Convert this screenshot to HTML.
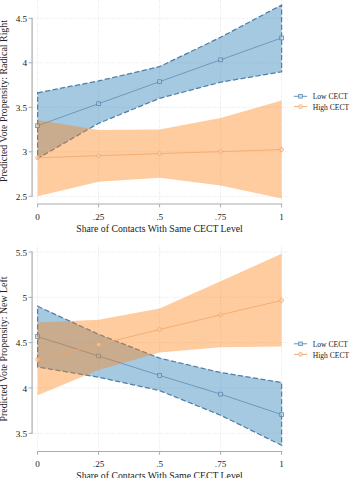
<!DOCTYPE html>
<html><head><meta charset="utf-8"><style>
html,body{margin:0;padding:0;background:#fff;}
body{width:350px;height:478px;position:relative;overflow:hidden;font-family:"Liberation Serif",serif;color:#222;}
svg{position:absolute;left:0;top:0;}
.yt{position:absolute;left:0;width:27.2px;text-align:right;font-size:9.2px;line-height:12px;white-space:nowrap;}
.xt{position:absolute;width:30px;text-align:center;font-size:9.2px;line-height:12px;white-space:nowrap;}
.xtitle{position:absolute;left:0;width:319px;text-align:center;font-size:9.75px;line-height:12px;white-space:nowrap;}
.ytitle{position:absolute;left:-96px;width:200px;height:12px;margin-top:-6px;text-align:center;font-size:9.9px;line-height:12px;white-space:nowrap;transform:rotate(-90deg);}
.leg{position:absolute;left:312.7px;font-size:7.6px;line-height:11px;white-space:nowrap;}
</style></head><body>
<svg width="350" height="478" viewBox="0 0 350 478">
<line x1="33" y1="18.30" x2="288" y2="18.30" stroke="#d8d8d8" stroke-width="0.8" stroke-dasharray="0.8 1.6"/>
<line x1="33" y1="62.80" x2="288" y2="62.80" stroke="#d8d8d8" stroke-width="0.8" stroke-dasharray="0.8 1.6"/>
<line x1="33" y1="107.30" x2="288" y2="107.30" stroke="#d8d8d8" stroke-width="0.8" stroke-dasharray="0.8 1.6"/>
<line x1="33" y1="151.80" x2="288" y2="151.80" stroke="#d8d8d8" stroke-width="0.8" stroke-dasharray="0.8 1.6"/>
<line x1="33" y1="196.30" x2="288" y2="196.30" stroke="#d8d8d8" stroke-width="0.8" stroke-dasharray="0.8 1.6"/>
<line x1="37.60" y1="0.00" x2="37.60" y2="203.00" stroke="#d8d8d8" stroke-width="0.8" stroke-dasharray="0.8 1.6"/>
<line x1="98.60" y1="0.00" x2="98.60" y2="203.00" stroke="#d8d8d8" stroke-width="0.8" stroke-dasharray="0.8 1.6"/>
<line x1="159.60" y1="0.00" x2="159.60" y2="203.00" stroke="#d8d8d8" stroke-width="0.8" stroke-dasharray="0.8 1.6"/>
<line x1="220.60" y1="0.00" x2="220.60" y2="203.00" stroke="#d8d8d8" stroke-width="0.8" stroke-dasharray="0.8 1.6"/>
<line x1="281.60" y1="0.00" x2="281.60" y2="203.00" stroke="#d8d8d8" stroke-width="0.8" stroke-dasharray="0.8 1.6"/>
<polygon points="37.60,92.80 98.60,80.90 159.60,66.60 220.60,37.30 281.60,5.00 281.60,71.80 220.60,82.20 159.60,98.30 98.60,123.30 37.60,158.50" fill="rgba(31,119,180,0.40)" stroke="#4f7fa8" stroke-width="1.25" stroke-dasharray="5.2 2.4" stroke-linejoin="miter"/>
<polyline points="37.60,125.70 98.60,103.70 159.60,81.70 220.60,59.80 281.60,37.90" fill="none" stroke="#5a88b0" stroke-width="0.75"/>
<rect x="35.70" y="123.80" width="3.8" height="3.8" fill="rgba(190,220,240,0.5)" stroke="#5a88b0" stroke-width="0.8"/>
<rect x="96.70" y="101.80" width="3.8" height="3.8" fill="rgba(190,220,240,0.5)" stroke="#5a88b0" stroke-width="0.8"/>
<rect x="157.70" y="79.80" width="3.8" height="3.8" fill="rgba(190,220,240,0.5)" stroke="#5a88b0" stroke-width="0.8"/>
<rect x="218.70" y="57.90" width="3.8" height="3.8" fill="rgba(190,220,240,0.5)" stroke="#5a88b0" stroke-width="0.8"/>
<rect x="279.70" y="36.00" width="3.8" height="3.8" fill="rgba(190,220,240,0.5)" stroke="#5a88b0" stroke-width="0.8"/>
<polygon points="37.60,120.10 98.60,130.00 159.60,129.50 220.60,117.90 281.60,100.60 281.60,198.50 220.60,185.40 159.60,177.70 98.60,181.70 37.60,196.20" fill="rgba(255,127,14,0.40)" stroke="none"/>
<polyline points="37.60,157.80 98.60,155.70 159.60,153.60 220.60,151.60 281.60,149.50" fill="none" stroke="#f2a468" stroke-width="0.8"/>
<circle cx="37.60" cy="157.80" r="1.9" fill="rgba(255,225,200,0.5)" stroke="#f2a468" stroke-width="0.8"/>
<circle cx="98.60" cy="155.70" r="1.9" fill="rgba(255,225,200,0.5)" stroke="#f2a468" stroke-width="0.8"/>
<circle cx="159.60" cy="153.60" r="1.9" fill="rgba(255,225,200,0.5)" stroke="#f2a468" stroke-width="0.8"/>
<circle cx="220.60" cy="151.60" r="1.9" fill="rgba(255,225,200,0.5)" stroke="#f2a468" stroke-width="0.8"/>
<circle cx="281.60" cy="149.50" r="1.9" fill="rgba(255,225,200,0.5)" stroke="#f2a468" stroke-width="0.8"/>
<line x1="32.1" y1="17.80" x2="32.1" y2="196.80" stroke="#acacac" stroke-width="1.2"/>
<line x1="28.6" y1="18.30" x2="32.1" y2="18.30" stroke="#acacac" stroke-width="1"/>
<line x1="28.6" y1="62.80" x2="32.1" y2="62.80" stroke="#acacac" stroke-width="1"/>
<line x1="28.6" y1="107.30" x2="32.1" y2="107.30" stroke="#acacac" stroke-width="1"/>
<line x1="28.6" y1="151.80" x2="32.1" y2="151.80" stroke="#acacac" stroke-width="1"/>
<line x1="28.6" y1="196.30" x2="32.1" y2="196.30" stroke="#acacac" stroke-width="1"/>
<line x1="37.1" y1="204.00" x2="282.1" y2="204.00" stroke="#acacac" stroke-width="1.2"/>
<line x1="37.60" y1="204.00" x2="37.60" y2="207.30" stroke="#acacac" stroke-width="1"/>
<line x1="98.60" y1="204.00" x2="98.60" y2="207.30" stroke="#acacac" stroke-width="1"/>
<line x1="159.60" y1="204.00" x2="159.60" y2="207.30" stroke="#acacac" stroke-width="1"/>
<line x1="220.60" y1="204.00" x2="220.60" y2="207.30" stroke="#acacac" stroke-width="1"/>
<line x1="281.60" y1="204.00" x2="281.60" y2="207.30" stroke="#acacac" stroke-width="1"/>
<line x1="293.9" y1="96.30" x2="307.1" y2="96.30" stroke="#5a88b0" stroke-width="0.9"/>
<rect x="298.7" y="94.50" width="3.6" height="3.6" fill="rgba(210,230,245,0.9)" stroke="#5a88b0" stroke-width="0.8"/>
<line x1="293.9" y1="106.60" x2="307.1" y2="106.60" stroke="#f2a468" stroke-width="0.9"/>
<circle cx="300.5" cy="106.60" r="1.85" fill="rgba(255,230,210,0.9)" stroke="#f2a468" stroke-width="0.8"/>
<line x1="33" y1="252.00" x2="288" y2="252.00" stroke="#d8d8d8" stroke-width="0.8" stroke-dasharray="0.8 1.6"/>
<line x1="33" y1="297.32" x2="288" y2="297.32" stroke="#d8d8d8" stroke-width="0.8" stroke-dasharray="0.8 1.6"/>
<line x1="33" y1="342.65" x2="288" y2="342.65" stroke="#d8d8d8" stroke-width="0.8" stroke-dasharray="0.8 1.6"/>
<line x1="33" y1="387.98" x2="288" y2="387.98" stroke="#d8d8d8" stroke-width="0.8" stroke-dasharray="0.8 1.6"/>
<line x1="33" y1="433.30" x2="288" y2="433.30" stroke="#d8d8d8" stroke-width="0.8" stroke-dasharray="0.8 1.6"/>
<line x1="37.60" y1="245.50" x2="37.60" y2="450.50" stroke="#d8d8d8" stroke-width="0.8" stroke-dasharray="0.8 1.6"/>
<line x1="98.60" y1="245.50" x2="98.60" y2="450.50" stroke="#d8d8d8" stroke-width="0.8" stroke-dasharray="0.8 1.6"/>
<line x1="159.60" y1="245.50" x2="159.60" y2="450.50" stroke="#d8d8d8" stroke-width="0.8" stroke-dasharray="0.8 1.6"/>
<line x1="220.60" y1="245.50" x2="220.60" y2="450.50" stroke="#d8d8d8" stroke-width="0.8" stroke-dasharray="0.8 1.6"/>
<line x1="281.60" y1="245.50" x2="281.60" y2="450.50" stroke="#d8d8d8" stroke-width="0.8" stroke-dasharray="0.8 1.6"/>
<polygon points="37.60,306.30 98.60,334.30 159.60,358.10 220.60,372.50 281.60,382.50 281.60,445.30 220.60,415.20 159.60,390.60 98.60,377.20 37.60,367.00" fill="rgba(31,119,180,0.40)" stroke="#4f7fa8" stroke-width="1.25" stroke-dasharray="5.2 2.4" stroke-linejoin="miter"/>
<polyline points="37.60,336.50 98.60,356.00 159.60,375.40 220.60,394.10 281.60,414.60" fill="none" stroke="#5a88b0" stroke-width="0.75"/>
<rect x="35.70" y="334.60" width="3.8" height="3.8" fill="rgba(190,220,240,0.5)" stroke="#5a88b0" stroke-width="0.8"/>
<rect x="96.70" y="354.10" width="3.8" height="3.8" fill="rgba(190,220,240,0.5)" stroke="#5a88b0" stroke-width="0.8"/>
<rect x="157.70" y="373.50" width="3.8" height="3.8" fill="rgba(190,220,240,0.5)" stroke="#5a88b0" stroke-width="0.8"/>
<rect x="218.70" y="392.20" width="3.8" height="3.8" fill="rgba(190,220,240,0.5)" stroke="#5a88b0" stroke-width="0.8"/>
<rect x="279.70" y="412.70" width="3.8" height="3.8" fill="rgba(190,220,240,0.5)" stroke="#5a88b0" stroke-width="0.8"/>
<polygon points="37.60,322.50 98.60,319.80 159.60,308.40 220.60,281.30 281.60,253.80 281.60,346.60 220.60,347.20 159.60,352.40 98.60,370.10 37.60,395.20" fill="rgba(255,127,14,0.40)" stroke="none"/>
<polyline points="37.60,359.40 98.60,344.50 159.60,329.50 220.60,314.80 281.60,300.40" fill="none" stroke="#f2a468" stroke-width="0.8"/>
<circle cx="37.60" cy="359.40" r="1.9" fill="rgba(255,225,200,0.5)" stroke="#f2a468" stroke-width="0.8"/>
<circle cx="98.60" cy="344.50" r="1.9" fill="rgba(255,225,200,0.5)" stroke="#f2a468" stroke-width="0.8"/>
<circle cx="159.60" cy="329.50" r="1.9" fill="rgba(255,225,200,0.5)" stroke="#f2a468" stroke-width="0.8"/>
<circle cx="220.60" cy="314.80" r="1.9" fill="rgba(255,225,200,0.5)" stroke="#f2a468" stroke-width="0.8"/>
<circle cx="281.60" cy="300.40" r="1.9" fill="rgba(255,225,200,0.5)" stroke="#f2a468" stroke-width="0.8"/>
<line x1="32.1" y1="251.50" x2="32.1" y2="433.80" stroke="#acacac" stroke-width="1.2"/>
<line x1="28.6" y1="252.00" x2="32.1" y2="252.00" stroke="#acacac" stroke-width="1"/>
<line x1="28.6" y1="297.32" x2="32.1" y2="297.32" stroke="#acacac" stroke-width="1"/>
<line x1="28.6" y1="342.65" x2="32.1" y2="342.65" stroke="#acacac" stroke-width="1"/>
<line x1="28.6" y1="387.98" x2="32.1" y2="387.98" stroke="#acacac" stroke-width="1"/>
<line x1="28.6" y1="433.30" x2="32.1" y2="433.30" stroke="#acacac" stroke-width="1"/>
<line x1="37.1" y1="451.50" x2="282.1" y2="451.50" stroke="#acacac" stroke-width="1.2"/>
<line x1="37.60" y1="451.50" x2="37.60" y2="454.80" stroke="#acacac" stroke-width="1"/>
<line x1="98.60" y1="451.50" x2="98.60" y2="454.80" stroke="#acacac" stroke-width="1"/>
<line x1="159.60" y1="451.50" x2="159.60" y2="454.80" stroke="#acacac" stroke-width="1"/>
<line x1="220.60" y1="451.50" x2="220.60" y2="454.80" stroke="#acacac" stroke-width="1"/>
<line x1="281.60" y1="451.50" x2="281.60" y2="454.80" stroke="#acacac" stroke-width="1"/>
<line x1="293.9" y1="343.80" x2="307.1" y2="343.80" stroke="#5a88b0" stroke-width="0.9"/>
<rect x="298.7" y="342.00" width="3.6" height="3.6" fill="rgba(210,230,245,0.9)" stroke="#5a88b0" stroke-width="0.8"/>
<line x1="293.9" y1="354.40" x2="307.1" y2="354.40" stroke="#f2a468" stroke-width="0.9"/>
<circle cx="300.5" cy="354.40" r="1.85" fill="rgba(255,230,210,0.9)" stroke="#f2a468" stroke-width="0.8"/>
</svg>
<div class="yt" style="top:12.90px">4.5</div>
<div class="yt" style="top:57.40px">4</div>
<div class="yt" style="top:101.90px">3.5</div>
<div class="yt" style="top:146.40px">3</div>
<div class="yt" style="top:190.90px">2.5</div>
<div class="xt" style="left:22.60px;top:210.50px">0</div>
<div class="xt" style="left:83.60px;top:210.50px">.25</div>
<div class="xt" style="left:144.60px;top:210.50px">.5</div>
<div class="xt" style="left:205.60px;top:210.50px">.75</div>
<div class="xt" style="left:266.60px;top:210.50px">1</div>
<div class="xtitle" style="top:222.50px">Share of Contacts With Same CECT Level</div>
<div class="ytitle" style="top:101.40px">Predicted Vote Propensity: Radical Right</div>
<div class="leg" style="top:91.40px">Low CECT</div>
<div class="leg" style="top:101.70px">High CECT</div>
<div class="yt" style="top:246.60px">5.5</div>
<div class="yt" style="top:291.93px">5</div>
<div class="yt" style="top:337.25px">4.5</div>
<div class="yt" style="top:382.58px">4</div>
<div class="yt" style="top:427.90px">3.5</div>
<div class="xt" style="left:22.60px;top:458.00px">0</div>
<div class="xt" style="left:83.60px;top:458.00px">.25</div>
<div class="xt" style="left:144.60px;top:458.00px">.5</div>
<div class="xt" style="left:205.60px;top:458.00px">.75</div>
<div class="xt" style="left:266.60px;top:458.00px">1</div>
<div class="xtitle" style="top:469.50px">Share of Contacts With Same CECT Level</div>
<div class="ytitle" style="top:349.20px">Predicted Vote Propensity: New Left</div>
<div class="leg" style="top:338.90px">Low CECT</div>
<div class="leg" style="top:349.50px">High CECT</div>
</body></html>
